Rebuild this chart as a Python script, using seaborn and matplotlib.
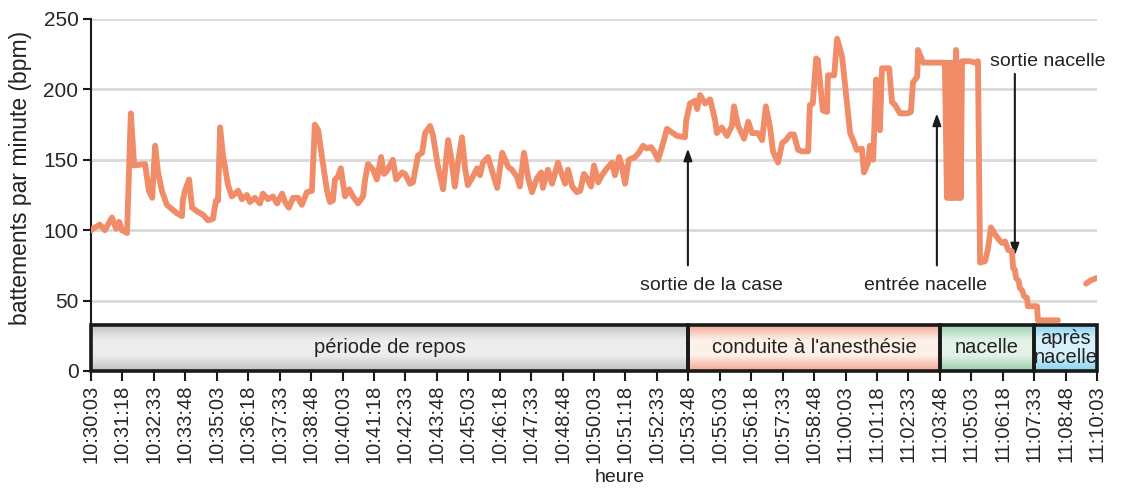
import numpy as np
import pandas as pd
import matplotlib
matplotlib.use("Agg")
import matplotlib.pyplot as plt
from matplotlib.colors import LinearSegmentedColormap
from matplotlib.patches import Rectangle
import seaborn as sns

# ---------------- data ----------------
# time in seconds since 10:30:03
t_sec = [0, 10, 21, 33, 50, 60, 67, 74, 86, 95, 103, 129, 138, 146, 153, 160, 169, 181, 193, 205,
         217, 219, 224, 234, 241, 255, 267, 279, 291, 298, 303, 308, 315, 327, 336, 351, 360, 372, 379, 391,
         403, 410, 422, 434, 444, 456, 463, 472, 482, 494, 503, 515, 527, 534, 542, 551, 563, 570, 577, 582,
         589, 596, 606, 616, 625, 637, 649, 654, 661, 673, 682, 692, 699, 706, 720, 728, 742, 749, 761, 768,
         780, 790, 797, 809, 816, 828, 840, 852, 859, 868, 876, 885, 892, 899, 911, 921, 928, 935, 947, 957,
         969, 981, 990, 995, 1004, 1016, 1023, 1033, 1043, 1052, 1064, 1074, 1078, 1090, 1100, 1114, 1124, 1131, 1138, 1148,
         1159, 1167, 1176, 1183, 1193, 1200, 1210, 1219, 1231, 1243, 1250, 1260, 1267, 1274, 1283, 1298, 1307, 1317, 1326, 1336,
         1343, 1353, 1365, 1374, 1388, 1398, 1417, 1420, 1429, 1441, 1446, 1453, 1465, 1477, 1489, 1493, 1505, 1517, 1529, 1534,
         1544, 1558, 1568, 1577, 1591, 1601, 1610, 1620, 1627, 1639, 1649, 1658, 1668, 1677, 1687, 1696, 1711, 1715, 1722, 1730,
         1734, 1746, 1756, 1758, 1773, 1780, 1792, 1799, 1811, 1818, 1827, 1839, 1844, 1854, 1858, 1866, 1873, 1882, 1887, 1904,
         1911, 1918, 1930, 1949, 1956, 1961, 1971, 1973, 1985, 2037, 2042, 2045, 2047, 2049, 2052, 2054, 2056, 2059, 2061, 2064,
         2066, 2068, 2071, 2073, 2075, 2078, 2097, 2109, 2116, 2121, 2133, 2140, 2147, 2157, 2164, 2173, 2181, 2188, 2197, 2200,
         2204, 2207, 2213, 2216, 2222, 2226, 2233, 2235, 2247, 2257, 2259, 2307, 2330, 2374, 2383, 2398]
bpm = [100, 102, 104, 100, 109, 101, 106, 100, 98, 183, 146, 147, 128, 123, 160, 141, 128, 118, 115, 112,
       110, 121, 128, 136, 116, 113, 111, 107, 108, 121, 121, 173, 153, 132, 124, 128, 122, 125, 120, 123,
       119, 126, 122, 124, 119, 126, 120, 116, 123, 123, 118, 127, 128, 175, 171, 152, 128, 120, 121, 136,
       138, 144, 124, 129, 124, 119, 124, 136, 147, 143, 136, 152, 140, 142, 150, 136, 141, 140, 133, 134,
       153, 155, 169, 174, 167, 145, 129, 164, 152, 131, 149, 166, 145, 132, 138, 144, 139, 148, 152, 142,
       130, 155, 149, 145, 143, 138, 131, 155, 137, 127, 137, 141, 130, 143, 133, 148, 139, 133, 143, 131,
       127, 128, 140, 137, 131, 146, 134, 139, 144, 148, 139, 152, 145, 133, 150, 152, 155, 160, 158, 159,
       156, 150, 162, 172, 169, 167, 166, 178, 190, 192, 186, 196, 190, 193, 178, 169, 173, 167, 174, 188,
       174, 165, 177, 169, 169, 164, 188, 173, 156, 148, 162, 164, 168, 168, 157, 156, 156, 189, 190, 222,
       221, 185, 184, 210, 210, 236, 223, 203, 169, 164, 157, 158, 141, 148, 160, 150, 207, 171, 215, 215,
       191, 189, 183, 183, 184, 205, 209, 228, 219, 219, 123, 219, 123, 219, 123, 219, 123, 219, 123, 228,
       123, 219, 123, 219, 123, 220, 220, 219, 220, 77, 78, 87, 102, 97, 94, 91, 92, 86, 85, 73,
       72, 66, 64, 59, 57, 53, 52, 46, 46, 46, 36, 36, np.nan, 62, 64, 66]

tick_labels = ["10:30:03", "10:31:18", "10:32:33", "10:33:48", "10:35:03", "10:36:18", "10:37:33",
               "10:38:48", "10:40:03", "10:41:18", "10:42:33", "10:43:48", "10:45:03", "10:46:18",
               "10:47:33", "10:48:48", "10:50:03", "10:51:18", "10:52:33", "10:53:48", "10:55:03",
               "10:56:18", "10:57:33", "10:58:48", "11:00:03", "11:01:18", "11:02:33", "11:03:48",
               "11:05:03", "11:06:18", "11:07:33", "11:08:48", "11:10:03"]
tick_step = 75  # seconds between labels

phase_labels = ["période de repos", "conduite à l'anesthésie", "nacelle", "après\nnacelle"]
phase_start = [0, 1425, 2025, 2250]
phase_end = [1425, 2025, 2250, 2400]
phase_edge = ["#bfc0c2", "#f2a693", "#98cdab", "#8ad1f1"]
phase_mid = ["#ededee", "#fdf1e8", "#e3f3e8", "#d8f2fc"]
band_top = 33

annotations = [("sortie de la case", 1481, 61, 1424, 75, 1424, 158),
               ("entrée nacelle", 1990, 61, 2018, 75, 2018, 183),
               ("sortie nacelle", 2283, 220, 2204, 211, 2204, 82)]

# ---------------- plot ----------------
sns.set_style("white")
plt.rcParams["font.family"] = ["Liberation Sans", "DejaVu Sans"]

fig = plt.figure(figsize=(11.22, 4.88), dpi=100)
ax = fig.add_axes([91 / 1122, (488 - 371) / 488, (1097 - 91) / 1122, (371 - 19) / 488])

df = pd.DataFrame({"t": t_sec, "bpm": bpm})
df["seg"] = df["bpm"].isna().cumsum()
df = df.dropna()
sns.lineplot(data=df, x="t", y="bpm", units="seg", estimator=None, sort=False,
             color="#f08c68", linewidth=4.2, ax=ax, zorder=4, legend=False)

# grid lines
for yv in [50, 100, 150, 200, 250]:
    ax.axhline(yv, color="#d9d9d9", lw=2, zorder=0)

# phase bands with vertical gradient
grad = np.linspace(0, 1, 64).reshape(-1, 1)
for lab, s, e, ce, cm in zip(phase_labels, phase_start, phase_end, phase_edge, phase_mid):
    cmap = LinearSegmentedColormap.from_list("b", [ce, cm, cm, ce])
    ax.imshow(grad, cmap=cmap, aspect="auto", extent=(s, e, 0, band_top), zorder=2,
              interpolation="bicubic", origin="lower")
    ax.add_patch(Rectangle((s, 0), e - s, band_top, fill=False, edgecolor="#1a1a1a",
                           lw=2.6, zorder=3, clip_on=False))
    ax.text((s + e) / 2, band_top / 2, lab, ha="center", va="center", fontsize=14.5,
            color="#222222", zorder=5, linespacing=1.0)

# annotations
for txt, tx, ty, x0, y0, x1, y1 in annotations:
    ax.text(tx, ty, txt, ha="center", va="center", fontsize=14, color="#222222")
    ax.annotate("", xy=(x1, y1), xytext=(x0, y0),
                arrowprops=dict(arrowstyle="-|>,head_length=0.7,head_width=0.25",
                                color="#1a1a1a", lw=1.5, shrinkA=0, shrinkB=0))

ax.set_xlim(0, 2400)
ax.set_ylim(0, 250)
ax.set_xticks(np.arange(len(tick_labels)) * tick_step)
ax.set_xticklabels(tick_labels, rotation=90, fontsize=14.5)
ax.set_yticks([0, 50, 100, 150, 200, 250])
ax.tick_params(axis="y", labelsize=15, length=6, width=1.5, color="#1a1a1a", direction="out", left=True, pad=3)
ax.tick_params(axis="x", length=7, width=1.5, color="#1a1a1a", direction="out", bottom=True, pad=3)

for sp in ["top", "right", "bottom"]:
    ax.spines[sp].set_visible(False)
ax.spines["left"].set_color("#1a1a1a")
ax.spines["left"].set_linewidth(1.5)

ax.set_xlabel("")
ax.set_ylabel("")
fig.text(620 / 1122, 1 - 478 / 488, "heure", ha="center", va="center", fontsize=14, color="#222222")
fig.text(21 / 1122, 1 - 178 / 488, "battements par minute (bpm)", ha="center", va="center",
         rotation=90, fontsize=16.5, color="#222222")

fig.savefig("out.png", dpi=100)
